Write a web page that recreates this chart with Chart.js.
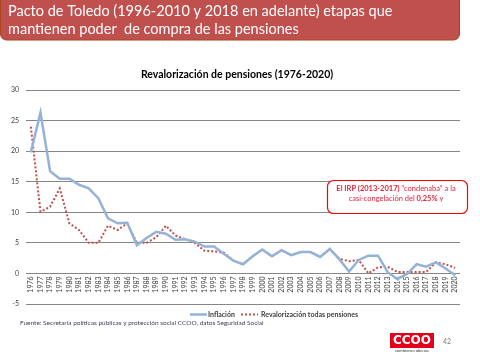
<!DOCTYPE html>
<html>
<head>
<meta charset="utf-8">
<script src="https://cdn.jsdelivr.net/npm/chart.js@4.4.1/dist/chart.umd.min.js"></script>
<style>
  html, body { margin: 0; padding: 0; background: #fff; }
</style>
</head>
<body>
<canvas id="chart" width="480" height="360"></canvas>
<script>
// años del eje X
const years = ['1976','1977','1978','1979','1980','1981','1982','1983','1984','1985',
  '1986','1987','1988','1989','1990','1991','1992','1993','1994','1995',
  '1996','1997','1998','1999','2000','2001','2002','2003','2004','2005',
  '2006','2007','2008','2009','2010','2011','2012','2013','2014','2015',
  '2016','2017','2018','2019','2020'];

// Inflación (%)
const inflacion = [19.8, 26.3, 16.7, 15.5, 15.5, 14.5, 13.9, 12.3, 9.0, 8.2,
  8.3, 4.6, 5.8, 6.8, 6.5, 5.5, 5.6, 5.2, 4.4, 4.4,
  3.2, 2.1, 1.5, 2.8, 3.9, 2.8, 3.8, 3.0, 3.5, 3.5,
  2.7, 4.0, 2.3, 0.3, 2.2, 2.9, 2.9, 0.2, -0.9, -0.1,
  1.5, 1.1, 1.8, 0.8, -0.3];

// Revalorización todas pensiones (%)
const revalorizacion = [24.0, 10.1, 10.9, 13.9, 8.2, 7.1, 5.0, 5.0, 7.8, 7.1,
  8.2, 5.0, 5.0, 5.9, 7.8, 6.2, 5.6, 5.0, 3.7, 3.6,
  3.4, 2.1, 1.5, 2.8, 3.9, 2.8, 3.8, 3.0, 3.5, 3.5,
  2.7, 4.0, 2.4, 2.0, 2.2, 0.0, 1.0, 1.1, 0.25, 0.25,
  0.25, 0.25, 1.8, 1.5, 0.9];

const yTicks = [-5, 0, 5, 10, 15, 20, 25, 30];

const headerLines = ['Pacto de Toledo (1996-2010 y 2018 en adelante) etapas que',
  'mantienen poder  de compra de las pensiones'];
const chartTitle = 'Revalorización de pensiones (1976-2020)';
const fuente = 'Fuente: Secretaría políticas públicas y protección social CCOO, datos Seguridad Social';

const FONT = 'Lato, "Open Sans", sans-serif';

function roundRect(c, x, y, w, h, r) {
  c.beginPath();
  c.moveTo(x + r, y);
  c.arcTo(x + w, y, x + w, y + h, r);
  c.arcTo(x + w, y + h, x, y + h, r);
  c.arcTo(x, y + h, x, y, r);
  c.arcTo(x, y, x + w, y, r);
  c.closePath();
}

// texto con partes en negrita, centrado
function mixedText(c, parts, cx, y, size) {
  let total = 0;
  parts.forEach(p => {
    c.font = (p[1] ? 'bold ' : '') + size + 'px ' + FONT;
    total += c.measureText(p[0]).width;
  });
  let x = cx - total / 2;
  c.textAlign = 'left';
  parts.forEach(p => {
    c.font = (p[1] ? 'bold ' : '') + size + 'px ' + FONT;
    c.fillText(p[0], x, y);
    x += c.measureText(p[0]).width;
  });
}

const decoraciones = {
  id: 'decoraciones',
  beforeDraw(chart) {
    const c = chart.ctx;
    c.save();
    c.fillStyle = '#fff';
    c.fillRect(0, 0, chart.width, chart.height);

    // cabecera roja
    roundRect(c, 0.5, -6, 459, 46, 6);
    c.fillStyle = '#C0504D';
    c.fill();
    c.strokeStyle = '#A6461F';
    c.lineWidth = 1;
    c.stroke();
    c.fillStyle = '#fff';
    c.font = '14.5px ' + FONT;
    c.textBaseline = 'alphabetic';
    c.fillText(headerLines[0], 8, 16);
    c.fillText(headerLines[1], 8, 34);

    // título
    c.font = 'bold 10.5px ' + FONT;
    c.fillStyle = '#000';
    c.textAlign = 'center';
    c.fillText(chartTitle, 237, 78);
    c.restore();
  },
  afterDraw(chart) {
    const c = chart.ctx;
    const ds = chart.data.datasets;
    c.save();

    // leyenda
    const ly = 314.5;
    c.lineWidth = ds[0].borderWidth;
    c.strokeStyle = ds[0].borderColor;
    c.beginPath(); c.moveTo(190, ly); c.lineTo(207, ly); c.stroke();
    c.lineWidth = ds[1].borderWidth;
    c.strokeStyle = ds[1].borderColor;
    c.setLineDash(ds[1].borderDash);
    c.beginPath(); c.moveTo(241, ly); c.lineTo(258, ly); c.stroke();
    c.setLineDash([]);
    c.fillStyle = '#404040';
    c.font = 'bold 7px ' + FONT;
    c.textBaseline = 'middle';
    c.fillText(ds[0].label, 208, ly);
    c.fillText(ds[1].label, 261, ly);

    // fuente
    c.font = '6.5px ' + FONT;
    c.fillStyle = '#40405A';
    c.fillText(fuente, 20, 323);

    // recuadro IRP
    roundRect(c, 327.5, 180.5, 140, 33, 6);
    c.fillStyle = '#fff';
    c.fill();
    c.strokeStyle = '#FF0000';
    c.lineWidth = 1.2;
    c.stroke();
    c.fillStyle = '#E8203A';
    mixedText(c, [['El IRP (2013-2017)', true], [' “condenaba” a la', false]], 396, 189, 7.5);
    mixedText(c, [['casi-congelación del ', false], ['0,25%', true], [' y', false]], 396, 199, 7.5);

    // logo CCOO
    c.fillStyle = '#E2001A';
    c.fillRect(390, 333, 44, 15);
    c.fillStyle = '#fff';
    c.font = 'bold 12px "DejaVu Sans", sans-serif';
    c.textAlign = 'center';
    c.fillText('CCOO', 412, 341);
    c.fillStyle = '#333';
    c.font = '4px ' + FONT;
    c.fillText('comisiones obreras', 412, 351);
    c.fillStyle = '#7F7F7F';
    c.font = '7px ' + FONT;
    c.fillText('42', 447, 342);
    c.restore();
  }
};

new Chart(document.getElementById('chart').getContext('2d'), {
  type: 'line',
  data: {
    labels: years,
    datasets: [
      {
        label: 'Inflación',
        data: inflacion,
        borderColor: '#95B3D7',
        borderWidth: 2.5,
        pointRadius: 0,
        tension: 0,
        fill: false
      },
      {
        label: 'Revalorización todas pensiones',
        data: revalorizacion,
        borderColor: '#C0504D',
        borderWidth: 2,
        borderDash: [2, 2],
        pointRadius: 0,
        tension: 0,
        fill: false
      }
    ]
  },
  options: {
    responsive: false,
    animation: false,
    devicePixelRatio: 1,
    layout: { padding: { left: 0, right: 20, top: 90, bottom: 56 } },
    plugins: {
      legend: { display: false },
      title: { display: false },
      tooltip: { enabled: false }
    },
    scales: {
      x: {
        type: 'category',
        offset: true,
        position: { y: 0 },
        grid: { display: false, drawTicks: false },
        border: { display: false },
        ticks: {
          autoSkip: false,
          maxRotation: 90,
          minRotation: 90,
          padding: 3,
          color: '#404040',
          font: { size: 7, family: FONT }
        }
      },
      y: {
        min: -5,
        max: 30,
        afterBuildTicks(scale) {
          scale.ticks = yTicks.map(v => ({ value: v }));
        },
        afterFit(scale) { scale.width = 26; },
        grid: { color: '#868686', lineWidth: 1, drawTicks: false },
        border: { display: false },
        ticks: {
          padding: 7,
          color: '#404040',
          font: { size: 7, family: FONT }
        }
      }
    }
  },
  plugins: [decoraciones]
});
</script>
</body>
</html>
